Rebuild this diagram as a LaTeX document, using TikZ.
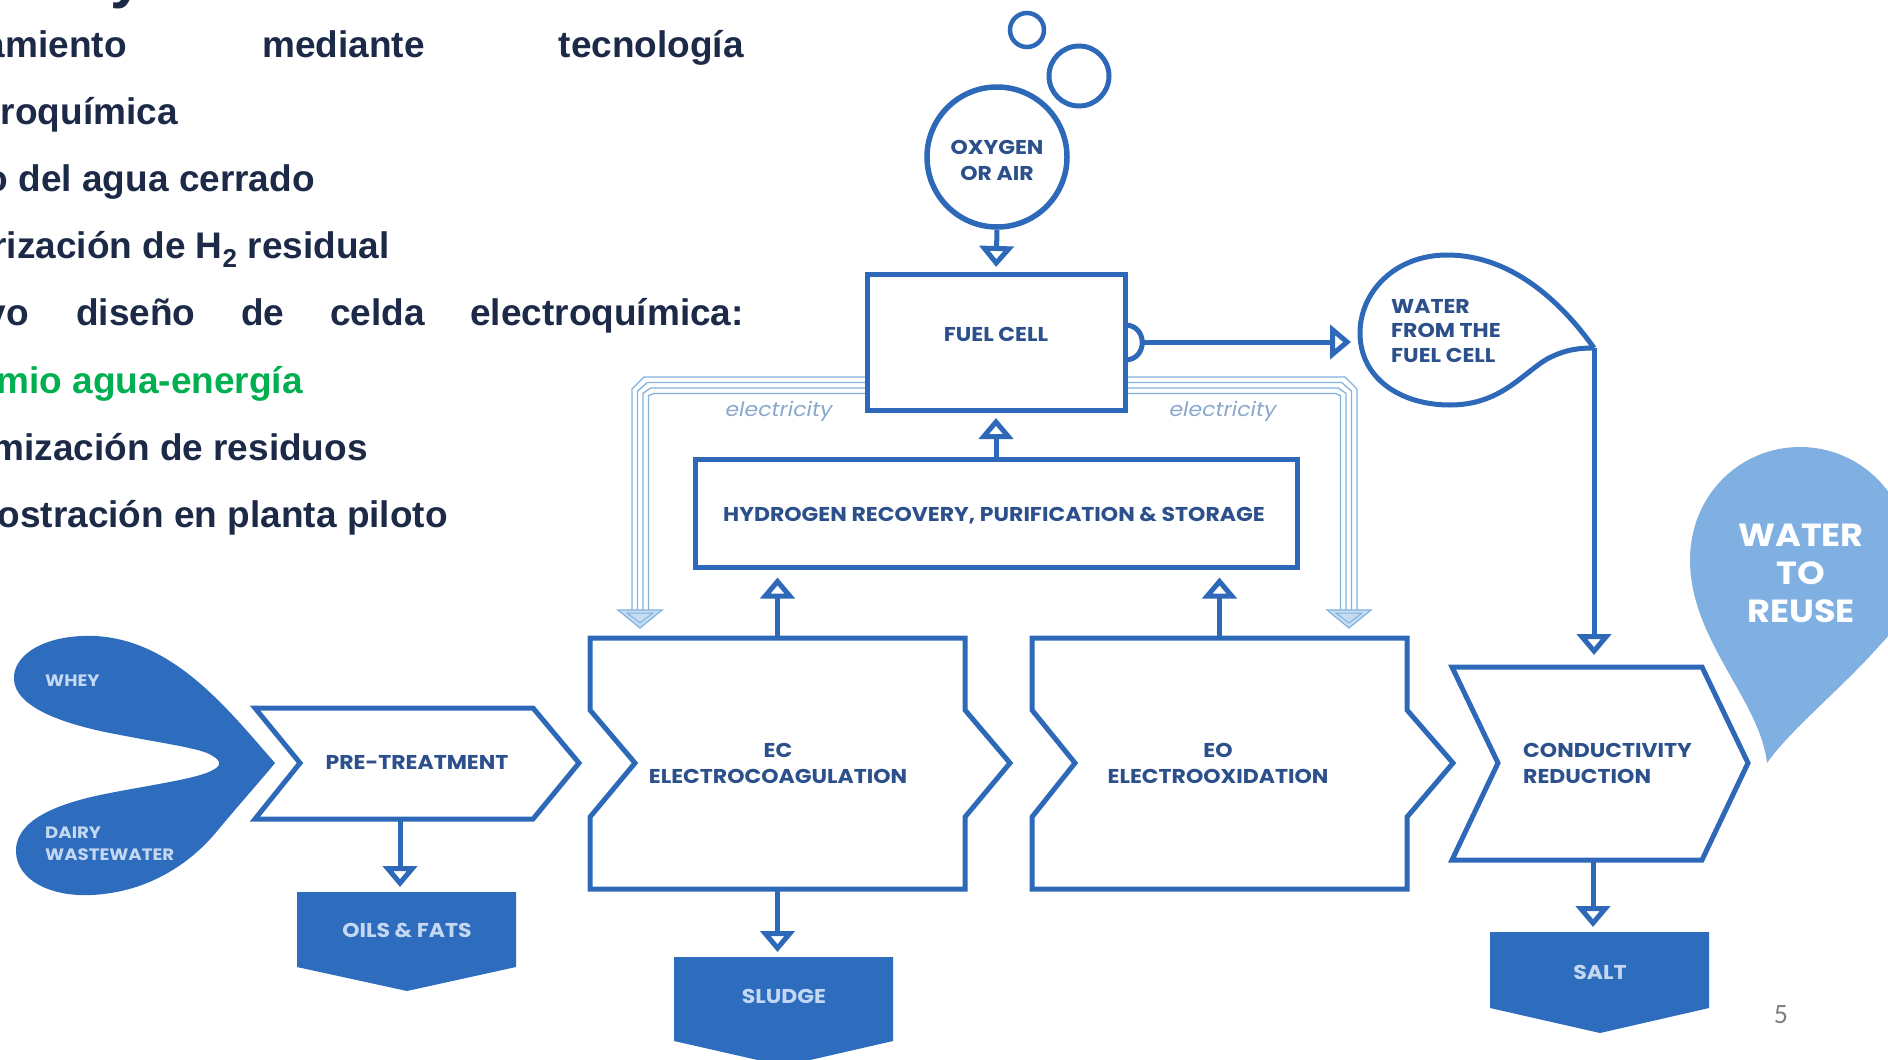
\documentclass[tikz,border=0pt]{standalone}
\usepackage{fontspec}
\usetikzlibrary{arrows.meta,calc}
\setmainfont{Liberation Sans}
\newfontfamily\gotham{Poppins}[FakeStretch=1.1]
\newfontfamily\carlito{Carlito}
\definecolor{navy}{HTML}{1C2A48}
\definecolor{grn}{HTML}{00B050}
\definecolor{boxc}{RGB}{45,105,184}
\definecolor{fillc}{RGB}{46,108,190}
\definecolor{txtc}{RGB}{44,80,140}
\definecolor{lighttxt}{RGB}{196,216,242}
\definecolor{reuse}{RGB}{128,176,226}
\definecolor{elec}{RGB}{128,178,224}
\definecolor{electxt}{RGB}{138,168,204}
\definecolor{pgnum}{RGB}{128,128,128}
\begin{document}
\begin{tikzpicture}[x=1pt,y=-1pt,
  lefttxt/.style={inner sep=0pt, font=\fontsize{37}{40}\selectfont\bfseries, text=navy},
  boxline/.style={draw=boxc, line width=5pt, line join=miter},
  lbl/.style={inner sep=0pt, font=\gotham\bfseries\fontsize{20}{26}\selectfont, text=txtc, align=center},
  flbl/.style={inner sep=0pt, font=\gotham\bfseries\fontsize{16.5}{22}\selectfont, text=lighttxt, align=left},
  arr/.style={draw=boxc, line width=5pt, -{Triangle[open,length=21pt,width=34pt]}},
  elecline/.style={draw=elec, line width=1.3pt},
  elechead/.style={fill=elec!45, draw=elec, line width=1.2pt, line join=miter},
  ghost/.style={inner sep=0pt, outer sep=0pt, minimum size=0pt}
]
\useasboundingbox (0,0) rectangle (1888,1060);
\fill[white] (0,0) rectangle (1888,1060);
\clip (0,0) rectangle (1888,1060);

% ---------------- left text ----------------
\node[lefttxt, anchor=base west, font=\fontsize{60}{60}\selectfont\bfseries] (ytitle) at (110,-4) {y};
\node[lefttxt, anchor=base east] (l1a) at (127,57) {amiento};
\node[lefttxt, anchor=base west] (l1b) at (262,57) {mediante};
\node[lefttxt, anchor=base east] (l1c) at (744,57) {tecnología};
\node[lefttxt, anchor=base east] (l2) at (178,124) {roquímica};
\node[lefttxt, anchor=base east] (l3) at (315,191) {o del agua cerrado};
\node[lefttxt, anchor=base east] (l4) at (390,258) {rización de H\textsubscript{2} residual};
\node[lefttxt, anchor=base east] (l5a) at (29,325) {vo};
\node[lefttxt, anchor=base west] (l5b) at (76,325) {diseño};
\node[lefttxt, anchor=base west] (l5c) at (241,325) {de};
\node[lefttxt, anchor=base west] (l5d) at (330,325) {celda};
\node[lefttxt, anchor=base east] (l5e) at (744,325) {electroquímica:};
\node[lefttxt, anchor=base east, text=grn] (l6) at (303,393) {mio agua-energía};
\node[lefttxt, anchor=base east] (l7) at (368,460) {mización de residuos};
\node[lefttxt, anchor=base east] (l8) at (448,527) {ostración en planta piloto};

% ---------------- electricity bundles ----------------
\node[boxline, fill=white, minimum width=258pt, minimum height=136pt, inner sep=0pt] (fuel) at (996,342.5) {};
\coordinate (ecel) at (640,628);
\coordinate (eoel) at (1349,628);
\foreach \d in {0,5.5,11,16.5}{
  \draw[elecline] ($(fuel.west)+(2.5,{34.5+\d})$) -- ({644+0.6*\d},{377+\d}) -- ({632+\d},{389+0.4*\d}) -- ({632+\d},612);
  \draw[elecline] ($(fuel.east)+(-2.5,{34.5+\d})$) -- ({1345-0.6*\d},{377+\d}) -- ({1357-\d},{389+0.4*\d}) -- ({1357-\d},612);
}
\draw[elechead] ($(ecel)+(-22,-18)$) -- ($(ecel)+(22,-18)$) -- (ecel) -- cycle;
\draw[elec, line width=1pt] ($(ecel)+(-13,-15)$) -- ($(ecel)+(13,-15)$) -- ($(ecel)+(0,-5)$) -- cycle;
\draw[elechead] ($(eoel)+(-22,-18)$) -- ($(eoel)+(22,-18)$) -- (eoel) -- cycle;
\draw[elec, line width=1pt] ($(eoel)+(-13,-15)$) -- ($(eoel)+(13,-15)$) -- ($(eoel)+(0,-5)$) -- cycle;
\node[font=\gotham\itshape\fontsize{20}{21}\selectfont, text=electxt, inner sep=0pt] (el1) at (779,411) {electricity};
\node[font=\gotham\itshape\fontsize{20}{21}\selectfont, text=electxt, inner sep=0pt] (el2) at (1223,411) {electricity};

% redraw fuel cell on top
\node[boxline, minimum width=258pt, minimum height=136pt, inner sep=0pt] (fuelb) at (996,342.5) {};
\node[lbl] (fuelt) at (996,334) {FUEL CELL};

% ---------------- oxygen ----------------
\node[circle, draw=boxc, line width=5.5pt, minimum size=140pt, inner sep=0pt] (oxy) at (997,157) {};
\node[lbl] (oxyt) at (997,160) {OXYGEN\\OR AIR};
\node[circle, draw=boxc, line width=4.5pt, minimum size=34pt, inner sep=0pt] (bub1) at (1027,30) {};
\node[circle, draw=boxc, line width=5pt, minimum size=60pt, inner sep=0pt] (bub2) at (1079,76) {};
\draw[arr, shorten >=5pt] (oxy.south) -- (fuel.north);

% ---------------- hydrogen ----------------
\node[boxline, minimum width=602pt, minimum height=108pt, inner sep=0pt] (hyd) at (996,513) {};
\node[lbl] (hydt) at (994,516) {HYDROGEN RECOVERY, PURIFICATION \& STORAGE};
\draw[arr, shorten >=5pt] (hyd.north) -- (fuel.south);

% ---------------- water from fuel cell ----------------
\coordinate (droptip) at (1594,348);
\draw[boxline, fill=white, line join=miter] (droptip) .. controls (1560,300) and (1510,255) .. (1447,255)
  .. controls (1395,255) and (1360,292) .. (1360,333)
  .. controls (1360,378) and (1400,405) .. (1450,405)
  .. controls (1500,405) and (1522,374) .. (1547,359)
  .. controls (1566,349) and (1580,348) .. (droptip);
\node[lbl, align=left, anchor=west, font=\gotham\bfseries\fontsize{20}{24.5}\selectfont] (dropt) at (1391,331) {WATER\\FROM THE\\FUEL CELL};
\draw[draw=boxc, line width=5pt] ($(fuel.east)+(-2.5,-17.5)$) .. controls +(23,0) and +(23,0) .. ($(fuel.east)+(-2.5,17.5)$);
\coordinate (bump) at (1142,342);
\coordinate (dropin) at (1360,342);
\draw[arr, shorten >=9pt] (bump) -- (dropin);

% ---------------- process boxes ----------------
\draw[boxline] (255,708) -- (533,708) -- (579,763) -- (533,819) -- (255,819) -- (300,763) -- cycle;
\node[ghost, minimum width=278pt, minimum height=111pt] (pre) at (394,763.5) {};
\node[lbl] (pret) at (417,762) {PRE-TREATMENT};

\draw[boxline] (590,638) -- (965,638) -- (965,710) -- (1010,763) -- (965,817) -- (965,889) -- (590,889) -- (590,817) -- (635,763) -- (590,710) -- cycle;
\node[ghost, minimum width=375pt, minimum height=251pt] (ec) at (777.5,763.5) {};
\node[lbl] (ect) at (778,763) {EC\\ELECTROCOAGULATION};

\draw[boxline] (1032,638) -- (1407,638) -- (1407,710) -- (1453,763) -- (1407,817) -- (1407,889) -- (1032,889) -- (1032,817) -- (1075,763) -- (1032,710) -- cycle;
\node[ghost, minimum width=375pt, minimum height=251pt] (eo) at (1219.5,763.5) {};
\node[lbl] (eot) at (1218,763) {EO\\ELECTROOXIDATION};

\draw[boxline] (1452,667) -- (1702,667) -- (1748,763) -- (1702,860) -- (1452,860) -- (1498,763) -- cycle;
\node[ghost, minimum width=250pt, minimum height=193pt] (cond) at (1577,763.5) {};
\node[lbl, align=left, anchor=west] (condt) at (1523,763) {CONDUCTIVITY\\REDUCTION};

\draw[arr, shorten >=8pt] (ec.north) -- (ec.north |- hyd.south);
\draw[arr, shorten >=8pt] (eo.north) -- (eo.north |- hyd.south);
\draw[arr, shorten >=12pt] (droptip) -- (droptip |- cond.north);

% ---------------- outputs ----------------
\fill[fillc] (297,892) -- (516,892) -- (516,967) -- (407,991) -- (297,967) -- cycle;
\node[ghost, minimum width=219pt, minimum height=99pt] (oils) at (406.5,941.5) {};
\node[flbl, font=\gotham\bfseries\fontsize{20}{22}\selectfont] (oilst) at (407,930) {OILS \& FATS};
\fill[fillc] (674,957) -- (893,957) -- (893,1041) -- (784,1066) -- (674,1041) -- cycle;
\node[ghost, minimum width=219pt, minimum height=109pt] (sludge) at (783.5,1011.5) {};
\node[flbl, font=\gotham\bfseries\fontsize{20}{22}\selectfont] (sludget) at (784,996) {SLUDGE};
\fill[fillc] (1490,932) -- (1709,932) -- (1709,1008) -- (1600,1033) -- (1490,1008) -- cycle;
\node[ghost, minimum width=219pt, minimum height=101pt] (salt) at (1599.5,982.5) {};
\node[flbl, font=\gotham\bfseries\fontsize{20}{22}\selectfont] (saltt) at (1600,972) {SALT};

\coordinate (pres) at (400,819);
\coordinate (conds) at (1593,860);
\draw[arr, shorten >=5pt] (pres) -- (pres |- oils.north);
\draw[arr, shorten >=5pt] (ec.south) -- (ec.south |- sludge.north);
\draw[arr, shorten >=5pt] (conds) -- (conds |- salt.north);

% ---------------- whey / dairy wastewater ----------------
\fill[fillc] (275,763) .. controls (230,712) and (175,640) .. (95,636)
  .. controls (45,634) and (12,655) .. (14,680)
  .. controls (16,705) and (55,722) .. (110,733)
  .. controls (160,743) and (200,748) .. (211,755)
  .. controls (222,761) and (222,766) .. (211,771)
  .. controls (195,779) and (150,785) .. (105,794)
  .. controls (45,806) and (15,825) .. (16,852)
  .. controls (17,880) and (50,897) .. (92,895)
  .. controls (150,892) and (192,862) .. (218,830)
  .. controls (243,800) and (262,779) .. (275,763) -- cycle;
\node[flbl, anchor=west] (whey) at (45,681) {WHEY};
\node[flbl, anchor=west] (dairy) at (45,844) {DAIRY\\WASTEWATER};

% ---------------- water to reuse ----------------
\fill[reuse] (1767,763) .. controls (1760,700) and (1690,640) .. (1690,560)
  .. controls (1690,495) and (1740,447) .. (1800,447)
  .. controls (1860,447) and (1910,495) .. (1910,560)
  .. controls (1910,600) and (1900,625) .. (1880,645)
  .. controls (1840,690) and (1790,730) .. (1767,763) -- cycle;
\node[inner sep=0pt, align=center, text=white, font=\gotham\bfseries\fontsize{32}{38}\selectfont] (reuset) at (1801,573) {WATER\\TO\\REUSE};

% ---------------- page number ----------------
\node[inner sep=0pt, text=pgnum, font=\carlito\fontsize{28}{28}\selectfont] (pg) at (1781,1015) {5};
\end{tikzpicture}
\end{document}
